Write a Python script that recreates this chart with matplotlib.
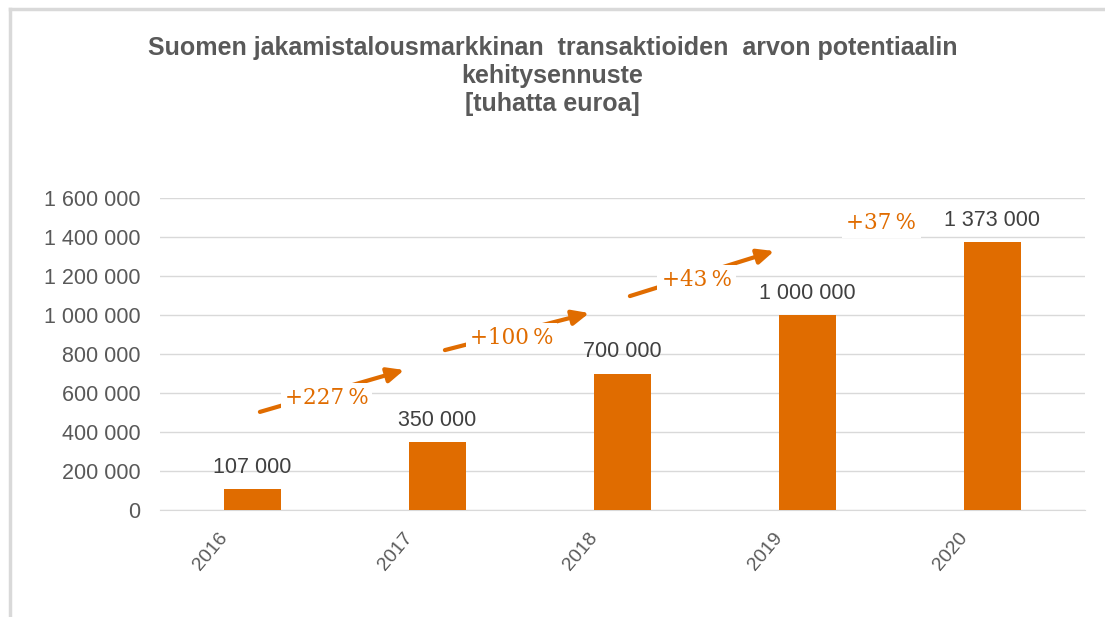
import numpy as np
import matplotlib.pyplot as plt
from matplotlib.lines import Line2D

years = ['2016', '2017', '2018', '2019', '2020']
values = [107000, 350000, 700000, 1000000, 1373000]
value_labels = ['107 000', '350 000', '700 000', '1 000 000', '1 373 000']

growth_labels = ['+227\u2009%', '+100\u2009%', '+43\u2009%', '+37\u2009%']
# arrow start / end heights
arrow_y0 = [503000, 820000, 1097000, 1395000]
arrow_y1 = [718000, 1010000, 1328000, 1615000]

bar_color = '#E06C00'
text_gray = '#595959'
grid_gray = '#D9D9D9'

plt.rcParams['font.family'] = ['Liberation Sans', 'DejaVu Sans']

fig = plt.figure(figsize=(11.05, 6.17), dpi=100)
ax = fig.add_axes([160/1105, 1 - 510/617, 925/1105, 312/617])

x = np.arange(len(years))
ax.bar(x, values, width=0.31, color=bar_color, zorder=3)

for xi, v, lab in zip(x, values, value_labels):
	ax.annotate(lab, (xi, v), xytext=(0, 8), textcoords='offset points',
				ha='center', va='bottom', fontsize=15.5, color='#404040')

# growth arrows between bars
for i, lab in enumerate(growth_labels):
	x0, x1 = i + 0.04, i + 0.82
	y0, y1 = arrow_y0[i], arrow_y1[i]
	ax.annotate('', xy=(x1, y1), xytext=(x0, y0),
				arrowprops=dict(arrowstyle='-|>,head_length=1.0,head_width=0.45',
								color=bar_color, lw=3,
								shrinkA=0, shrinkB=0), zorder=4)
	xm = (x0 + x1) / 2 - 0.03
	ym = (y0 + y1) / 2 - 35000
	ax.text(xm, ym, lab, ha='center', va='center', fontsize=15.5,
			family='DejaVu Serif', color=bar_color, zorder=5,
			bbox=dict(facecolor='white', edgecolor='none', pad=3))

ax.set_xlim(-0.5, len(years) - 0.5)
ax.set_ylim(0, 1600000)
ax.set_yticks(np.arange(0, 1600001, 200000))
ax.set_yticklabels([f'{int(t):,}'.replace(',', ' ') for t in ax.get_yticks()])
ax.set_xticks(x)
ax.set_xticklabels([])

# rotated year labels, anchored left of each bar like the original
for xi, yr in zip(x, years):
	ax.annotate(yr, (xi, 0), xycoords=('data', 'axes fraction'),
				xytext=(-25, -14), textcoords='offset points',
				ha='right', va='top', rotation=50, rotation_mode='anchor',
				fontsize=14, color=text_gray)

ax.yaxis.grid(True, color=grid_gray, lw=1, zorder=0)
ax.set_axisbelow(True)
for s in ['top', 'right', 'left']:
	ax.spines[s].set_visible(False)
ax.spines['bottom'].set_color(grid_gray)
ax.tick_params(axis='both', length=0, colors=text_gray, labelsize=15.5)
ax.tick_params(axis='y', pad=14)

fig.text(0.5, 1 - 76/617, 'Suomen jakamistalousmarkkinan  transaktioiden  arvon potentiaalin\nkehitysennuste\n[tuhatta euroa]',
		 ha='center', va='center', fontsize=18, fontweight='bold', color=text_gray,
		 linespacing=1.2)

# outer frame (top and left edges)
fig.add_artist(Line2D([10/1105, 1], [1 - 9/617, 1 - 9/617], color=grid_gray, lw=2.5))
fig.add_artist(Line2D([10/1105, 10/1105], [0, 1 - 9/617], color=grid_gray, lw=2.5))

fig.savefig('out.png', dpi=100)
plt.close()
